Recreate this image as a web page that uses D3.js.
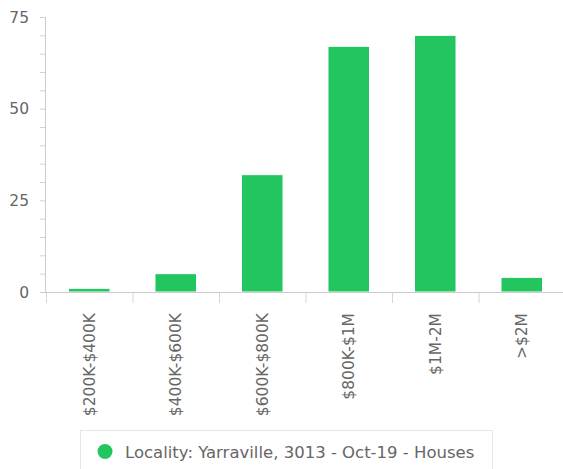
<!DOCTYPE html>
<html>
<head>
<meta charset="utf-8">
<script src="https://cdn.jsdelivr.net/npm/d3@7"></script>
<style>
  body { margin: 0; background: #fff; }
  text { font-family: "DejaVu Sans", sans-serif; }
</style>
</head>
<body>
<script>
// price bands and number of sales
var categories = ["$200K-$400K", "$400K-$600K", "$600K-$800K", "$800K-$1M", "$1M-2M", ">$2M"];
var values = [1, 5, 32, 67, 70, 4];
var yTicks = [0, 25, 50, 75];
var seriesName = "Locality: Yarraville, 3013 - Oct-19 - Houses";

function drawChart(){
	var width = 563, height = 469;
	var pLeft = 46, pRight = 565, pTop = 17, pBottom = 292;
	var green = "#22c55e";

	var svg = d3.select("body").append("svg")
		.attr("width", width)
		.attr("height", height);

	var x = d3.scaleBand()
		.domain(categories)
		.range([pLeft, pRight])
		.paddingInner(0.52)
		.paddingOuter(0.26);

	var y = d3.scaleLinear()
		.domain([0, 75])
		.range([pBottom, pTop]);

	// minor ticks every 5 on the left
	var minor = d3.range(0, 76, 5);
	svg.append("g").selectAll("line")
		.data(minor)
		.enter().append("line")
		.attr("x1", pLeft - 6).attr("x2", pLeft)
		.attr("y1", function(d){ return y(d) + 0.5; })
		.attr("y2", function(d){ return y(d) + 0.5; })
		.attr("stroke", "#d0d0d0");

	svg.append("line")
		.attr("x1", pLeft - 0.5).attr("x2", pLeft - 0.5)
		.attr("y1", y(75)).attr("y2", pBottom)
		.attr("stroke", "#ccc");

	// y labels
	svg.append("g").selectAll("text")
		.data(yTicks)
		.enter().append("text")
		.attr("x", 29)
		.attr("y", function(d){ return y(d) + 5.5; })
		.attr("text-anchor", "end")
		.attr("font-size", 15.5)
		.attr("fill", "#666")
		.text(function(d){ return d; });

	// bars
	svg.append("g").selectAll("rect")
		.data(values)
		.enter().append("rect")
		.attr("x", function(d, i){ return x(categories[i]); })
		.attr("y", function(d){ return y(d); })
		.attr("width", x.bandwidth())
		.attr("height", function(d){ return pBottom - y(d); })
		.attr("fill", green)
		.attr("stroke", "#fff")
		.attr("stroke-width", 1);

	// x axis
	svg.append("line")
		.attr("x1", pLeft - 6).attr("x2", width)
		.attr("y1", pBottom + 0.5).attr("y2", pBottom + 0.5)
		.attr("stroke", "#ccc");

	var step = x.step();
	svg.append("g").selectAll("line")
		.data(d3.range(categories.length))
		.enter().append("line")
		.attr("x1", function(i){ return pLeft + i * step + 0.5; })
		.attr("x2", function(i){ return pLeft + i * step + 0.5; })
		.attr("y1", pBottom + 1).attr("y2", pBottom + 11)
		.attr("stroke", "#ccd6eb");

	svg.append("g").selectAll("text")
		.data(categories)
		.enter().append("text")
		.attr("transform", function(d){
			return "translate(" + (x(d) + x.bandwidth() / 2 + 5.5) + "," + 313 + ") rotate(-90)";
		})
		.attr("text-anchor", "end")
		.attr("font-size", 15.5)
		.attr("fill", "#666")
		.text(function(d){ return d; });

	// legend
	var lg = svg.append("g");
	lg.append("rect")
		.attr("x", 80.5).attr("y", 430.5)
		.attr("width", 412).attr("height", 45)
		.attr("fill", "#fff")
		.attr("stroke", "#e6e6e6");
	lg.append("circle")
		.attr("cx", 105).attr("cy", 451.5)
		.attr("r", 7.5)
		.attr("fill", green);
	lg.append("text")
		.attr("x", 125).attr("y", 457.5)
		.attr("font-size", 16.5)
		.attr("fill", "#666")
		.text(seriesName);
}

drawChart();
</script>
</body>
</html>
